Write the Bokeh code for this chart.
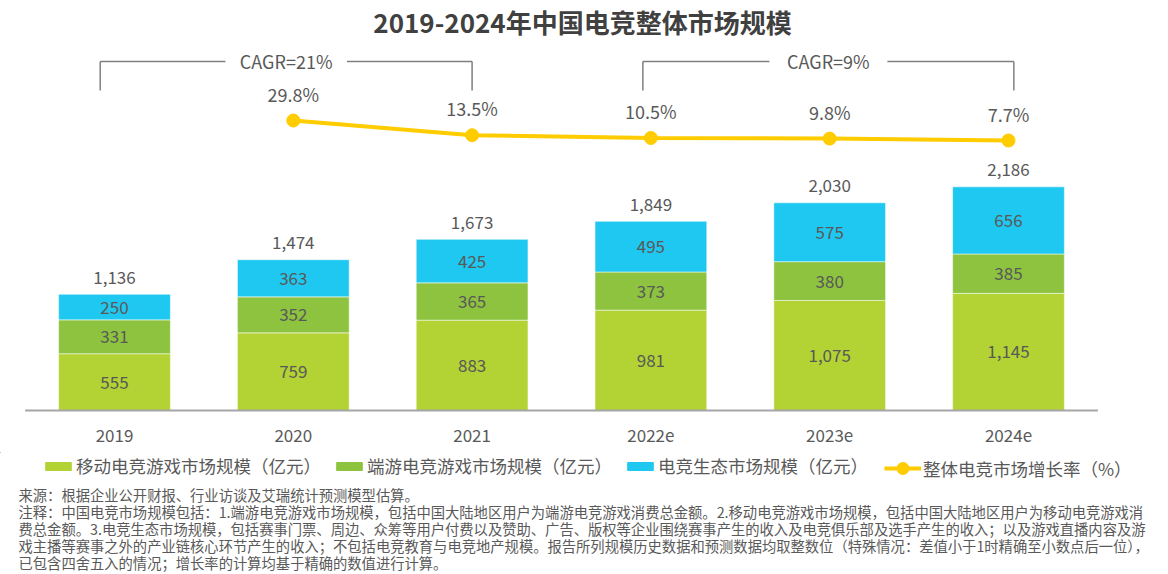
from bokeh.plotting import figure
from bokeh.layouts import column
from bokeh.models import (ColumnDataSource, Range1d, FixedTicker, Legend, LegendItem, Label)
from bokeh.core.properties import value
from bokeh.embed import file_html
from bokeh.resources import INLINE

# ---------------- data ----------------
years = ["2019", "2020", "2021", "2022e", "2023e", "2024e"]
mobile = [555, 759, 883, 981, 1075, 1145]
pc = [331, 352, 365, 373, 380, 385]
eco = [250, 363, 425, 495, 575, 656]
totals = [1136, 1474, 1673, 1849, 2030, 2186]
growth_years = ["2020", "2021", "2022e", "2023e", "2024e"]
growth = [29.8, 13.5, 10.5, 9.8, 7.7]
cagr_labels = ["CAGR=21%", "CAGR=9%"]
cagr_from = ["2019", "2022e"]
cagr_to = ["2021", "2024e"]

series_names = ["移动电竞游戏市场规模（亿元）", "端游电竞游戏市场规模（亿元）",
                "电竞生态市场规模（亿元）"]
line_name = "整体电竞市场增长率（%）"
title_text = "2019-2024年中国电竞整体市场规模"
notes = [
    "来源：根据企业公开财报、行业访谈及艾瑞统计预测模型估算。",
    "注释：中国电竞市场规模包括：1.端游电竞游戏市场规模，包括中国大陆地区用户为端游电竞游戏消费总金额。2.移动电竞游戏市场规模，包括中国大陆地区用户为移动电竞游戏消",
    "费总金额。3.电竞生态市场规模，包括赛事门票、周边、众筹等用户付费以及赞助、广告、版权等企业围绕赛事产生的收入及电竞俱乐部及选手产生的收入；以及游戏直播内容及游",
    "戏主播等赛事之外的产业链核心环节产生的收入；不包括电竞教育与电竞地产规模。报告所列规模历史数据和预测数据均取整数位（特殊情况：差值小于1时精确至小数点后一位），",
    "已包含四舍五入的情况；增长率的计算均基于精确的数值进行计算。",
]

# ---------------- style ----------------
FONT = "Noto Sans CJK SC"
TXT = "#595959"
C_MOBILE = "#B3D234"
C_PC = "#8DC33F"
C_ECO = "#1FC8F0"
C_LINE = "#FFCC00"
W = 1166
TOP_H = 452
BOT_H = 122

idx = list(range(len(years)))
p_top = [a + b for a, b in zip(mobile, pc)]
e_top = [a + b + c for a, b, c in zip(mobile, pc, eco)]

src = ColumnDataSource(dict(
    x=idx, mobile=mobile, pc=pc, eco=eco,
    m_mid=[v / 2 for v in mobile],
    p_mid=[a + b / 2 for a, b in zip(mobile, pc)],
    e_mid=[a + c / 2 for a, c in zip(p_top, eco)],
    total=e_top,
    m_lab=[f"{v:,}" for v in mobile],
    p_lab=[f"{v:,}" for v in pc],
    e_lab=[f"{v:,}" for v in eco],
    t_lab=[f"{v:,}" for v in totals],
))

gsrc = ColumnDataSource(dict(
    x=[years.index(y) for y in growth_years],
    g=growth,
    lab=[f"{v}%" for v in growth],
))

p = figure(width=W, height=TOP_H, output_backend="svg", toolbar_location=None,
           x_range=Range1d(-0.6376, 5.8837), y_range=Range1d(-19.55, 4007.8),
           min_border_left=0, min_border_right=0, min_border_top=0,
           min_border_bottom=TOP_H - 412, outline_line_color=None, tools="")
p.extra_y_ranges = {"pct": Range1d(-292.85, 162.4), "px": Range1d(0, 412)}

bars = p.vbar_stack(["mobile", "pc", "eco"], x="x", width=0.625, source=src,
                    color=[C_MOBILE, C_PC, C_ECO], line_color="white",
                    line_alpha=0.5, line_width=1)

# baseline under the categories
p.segment(x0=[-0.5], x1=[len(years) - 0.5], y0=[0], y1=[0],
          line_color="#A6A6A6", line_width=2)

line_r = p.line("x", "g", source=gsrc, y_range_name="pct", color=C_LINE, line_width=4)
dot_r = p.scatter("x", "g", source=gsrc, y_range_name="pct", size=13,
                  fill_color=C_LINE, line_color=C_LINE)

lab_kw = dict(text_font=value(FONT), text_font_size="17px", text_color=TXT,
              text_align="center", text_baseline="middle")
p.text("x", "m_mid", text="m_lab", source=src, **lab_kw)
p.text("x", "p_mid", text="p_lab", source=src, **lab_kw)
p.text("x", "e_mid", text="e_lab", source=src, **lab_kw)
p.text("x", "total", text="t_lab", source=src, y_offset=-17, **lab_kw)
pct_kw = dict(lab_kw, text_font_size="18px")
p.text("x", "g", text="lab", source=gsrc, y_range_name="pct", y_offset=-27, **pct_kw)

# CAGR brackets (annotation layout in pixel-range units)
br_top, br_bot = 351, 322
for lab, a, b, lo, hi, half in zip(cagr_labels, cagr_from, cagr_to,
                                   [-0.08, -0.045], [0.0, 0.03], [0.34, 0.33]):
    x0 = years.index(a) + lo
    x1 = years.index(b) + hi
    xm = (x0 + x1) / 2
    p.segment(x0=[x0, x0, xm + half, x1], y0=[br_bot, br_top, br_top, br_top],
              x1=[x0, xm - half, x1, x1], y1=[br_top, br_top, br_top, br_bot],
              y_range_name="px", line_color="#7F7F7F", line_width=1.5)
    p.text(x=[xm], y=[br_top + 1], text=[lab], y_range_name="px", **pct_kw)

# axes
p.yaxis.visible = False
p.xgrid.visible = False
p.ygrid.visible = False
p.xaxis.ticker = FixedTicker(ticks=idx)
p.xaxis.major_label_overrides = {i: y for i, y in enumerate(years)}
p.xaxis.major_tick_line_color = None
p.xaxis.major_tick_out = 0
p.xaxis.major_tick_in = 0
p.xaxis.minor_tick_line_color = None
p.xaxis.axis_line_color = None
p.xaxis.major_label_text_font = FONT
p.xaxis.major_label_text_font_size = "17px"
p.xaxis.major_label_text_color = TXT
p.xaxis.major_label_standoff = 16

# title
p.add_layout(Label(x=582, y=412 - 21, x_units="screen", y_units="screen", text=title_text,
                   text_font=FONT, text_font_size="26px", text_font_style="bold",
                   text_color="#404040", text_align="center", text_baseline="middle"))

# ---------------- legend + notes panel ----------------
q = figure(width=W, height=BOT_H, output_backend="svg", toolbar_location=None,
           x_range=Range1d(0, W), y_range=Range1d(BOT_H, 0),
           min_border=0, outline_line_color=None, tools="")
q.axis.visible = False
q.grid.visible = False

# legend keys: off-canvas proxies styled like the chart's renderers
OFF = [-5000]
key_r = [q.vbar(x=OFF, top=OFF, bottom=[-5001], width=1, color=c)
         for c in [C_MOBILE, C_PC, C_ECO]]
key_line = q.line(x=OFF, y=OFF, color=C_LINE, line_width=4)
key_dot = q.scatter(x=OFF, y=OFF, size=12, fill_color=C_LINE, line_color=C_LINE)

leg_kw = dict(orientation="horizontal", label_standoff=2, padding=0, margin=0,
              border_line_color=None, background_fill_alpha=0,
              label_text_font=FONT, label_text_font_size="17.5px",
              label_text_color=TXT, label_text_baseline="middle", label_height=20)
row_mid = BOT_H - 16   # legend row centre, measured up from the panel bottom
legend_bars = Legend(items=[LegendItem(label=n, renderers=[r])
                            for n, r in zip(series_names, key_r)],
                     location=(42, row_mid - 10), glyph_width=32, glyph_height=10,
                     spacing=12, **leg_kw)
legend_line = Legend(items=[LegendItem(label=line_name, renderers=[key_line, key_dot])],
                     location=(884, row_mid - 15), glyph_width=37, glyph_height=30,
                     **leg_kw)
q.add_layout(legend_bars, "center")
q.add_layout(legend_line, "center")

note_y = [494, 511, 528, 545, 562]
q.text(x=[18] * len(notes), y=[v - TOP_H for v in note_y], text=notes,
       text_font=value(FONT), text_font_size="14.3px", text_color=TXT,
       text_align="left", text_baseline="middle")

open("out.html", "w").write(file_html(column(p, q, spacing=0), INLINE))
